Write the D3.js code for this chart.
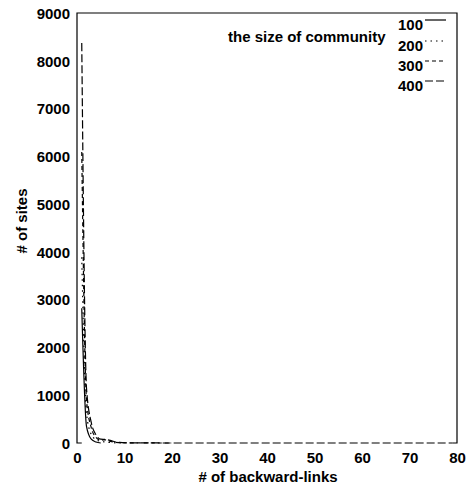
<!DOCTYPE html>
<html>
<head>
<meta charset="utf-8">
<script src="https://cdn.jsdelivr.net/npm/d3@7"></script>
<style>
  body { margin: 0; background: #fff; }
  text { font-family: "Liberation Sans", Arial, sans-serif; font-weight: bold; fill: #000; }
</style>
</head>
<body>
<svg id="chart" width="470" height="486"></svg>
<script>
// community sizes (legend) and dash styles
const sizes = ["100", "200", "300", "400"];
const dashes = [null, "1.5,4", "4,3", "8,3"];

// # of sites per # of backward-links, one list of [x, y] per community size
const s100 = [[1,2820],[2,350],[3,80],[4,20],[5,0]];
const s200 = [[1,3890],[2,620],[3,180],[4,70],[5,35],[6,20],[7,10],[8,4],[9,1],[10,0]];
const s300 = [[1,6090],[2,900],[3,320],[4,120],[5,60],[6,65],[7,35],[8,15],[9,8],[10,4],[15,1],[20,0]];
const s400 = [[1,8370],[2,1150],[3,430],[4,170],[5,80],[6,75],[7,55],[8,25],[9,12],[10,6],[15,2],[20,0],[30,0],[40,0],[50,0],[60,0],[70,0],[79,0]];
const series = [s100, s200, s300, s400];

const xTicks = [0, 10, 20, 30, 40, 50, 60, 70, 80];
const yTicks = [0, 1000, 2000, 3000, 4000, 5000, 6000, 7000, 8000, 9000];

const svg = d3.select("#chart");
const mLeft = 77, mRight = 457, mTop = 13, mBottom = 443;

const x = d3.scaleLinear().domain([0, 80]).range([mLeft, mRight]);
const y = d3.scaleLinear().domain([0, 9000]).range([mBottom, mTop]);

// frame: bottom edge only shows outside the data range, the curves draw the rest
const frame = d3.path();
frame.moveTo(x(1), mBottom);
frame.lineTo(mLeft, mBottom);
frame.lineTo(mLeft, mTop);
frame.lineTo(mRight, mTop);
frame.lineTo(mRight, mBottom);
frame.lineTo(x(79), mBottom);
svg.append("path")
  .attr("d", frame.toString())
  .attr("fill", "none").attr("stroke", "#000").attr("stroke-width", 1.2);

// axes: labels only, no tick marks
const xAxis = svg.append("g")
  .attr("transform", `translate(0,${mBottom})`)
  .call(d3.axisBottom(x).tickValues(xTicks).tickSize(0).tickPadding(9));
const yAxis = svg.append("g")
  .attr("transform", `translate(${mLeft},0)`)
  .call(d3.axisLeft(y).tickValues(yTicks).tickSize(0).tickPadding(7).tickFormat(d3.format("d")));
[xAxis, yAxis].forEach(g => {
  g.select(".domain").remove();
  g.selectAll("text").attr("font-size", 15).attr("font-family", null);
});
yAxis.selectAll("text").attr("dy", "0.35em");

// curves
const line = d3.line().x(d => x(d[0])).y(d => y(d[1])).curve(d3.curveMonotoneX);
svg.append("g")
  .selectAll("path")
  .data(series)
  .join("path")
  .attr("d", line)
  .attr("fill", "none")
  .attr("stroke", "#000")
  .attr("stroke-width", 1.2)
  .attr("stroke-dasharray", (d, i) => dashes[i]);

// axis titles
svg.append("text")
  .attr("x", 268).attr("y", 482)
  .attr("text-anchor", "middle").attr("font-size", 15)
  .text("# of backward-links");
svg.append("text")
  .attr("transform", "translate(27,221) rotate(-90)")
  .attr("text-anchor", "middle").attr("font-size", 15)
  .text("# of sites");

// legend
svg.append("text")
  .attr("x", 228).attr("y", 42).attr("font-size", 15)
  .text("the size of community");
const legY = [30, 51, 71, 91];
const leg = svg.append("g")
  .selectAll("g")
  .data(sizes)
  .join("g");
leg.append("text")
  .attr("x", 398).attr("y", (d, i) => legY[i]).attr("font-size", 15)
  .text(d => d);
leg.append("line")
  .attr("x1", 425).attr("x2", 446)
  .attr("y1", (d, i) => legY[i] - 10).attr("y2", (d, i) => legY[i] - 10)
  .attr("stroke", "#000").attr("stroke-width", 1.2)
  .attr("stroke-dasharray", (d, i) => dashes[i]);
</script>
</body>
</html>
